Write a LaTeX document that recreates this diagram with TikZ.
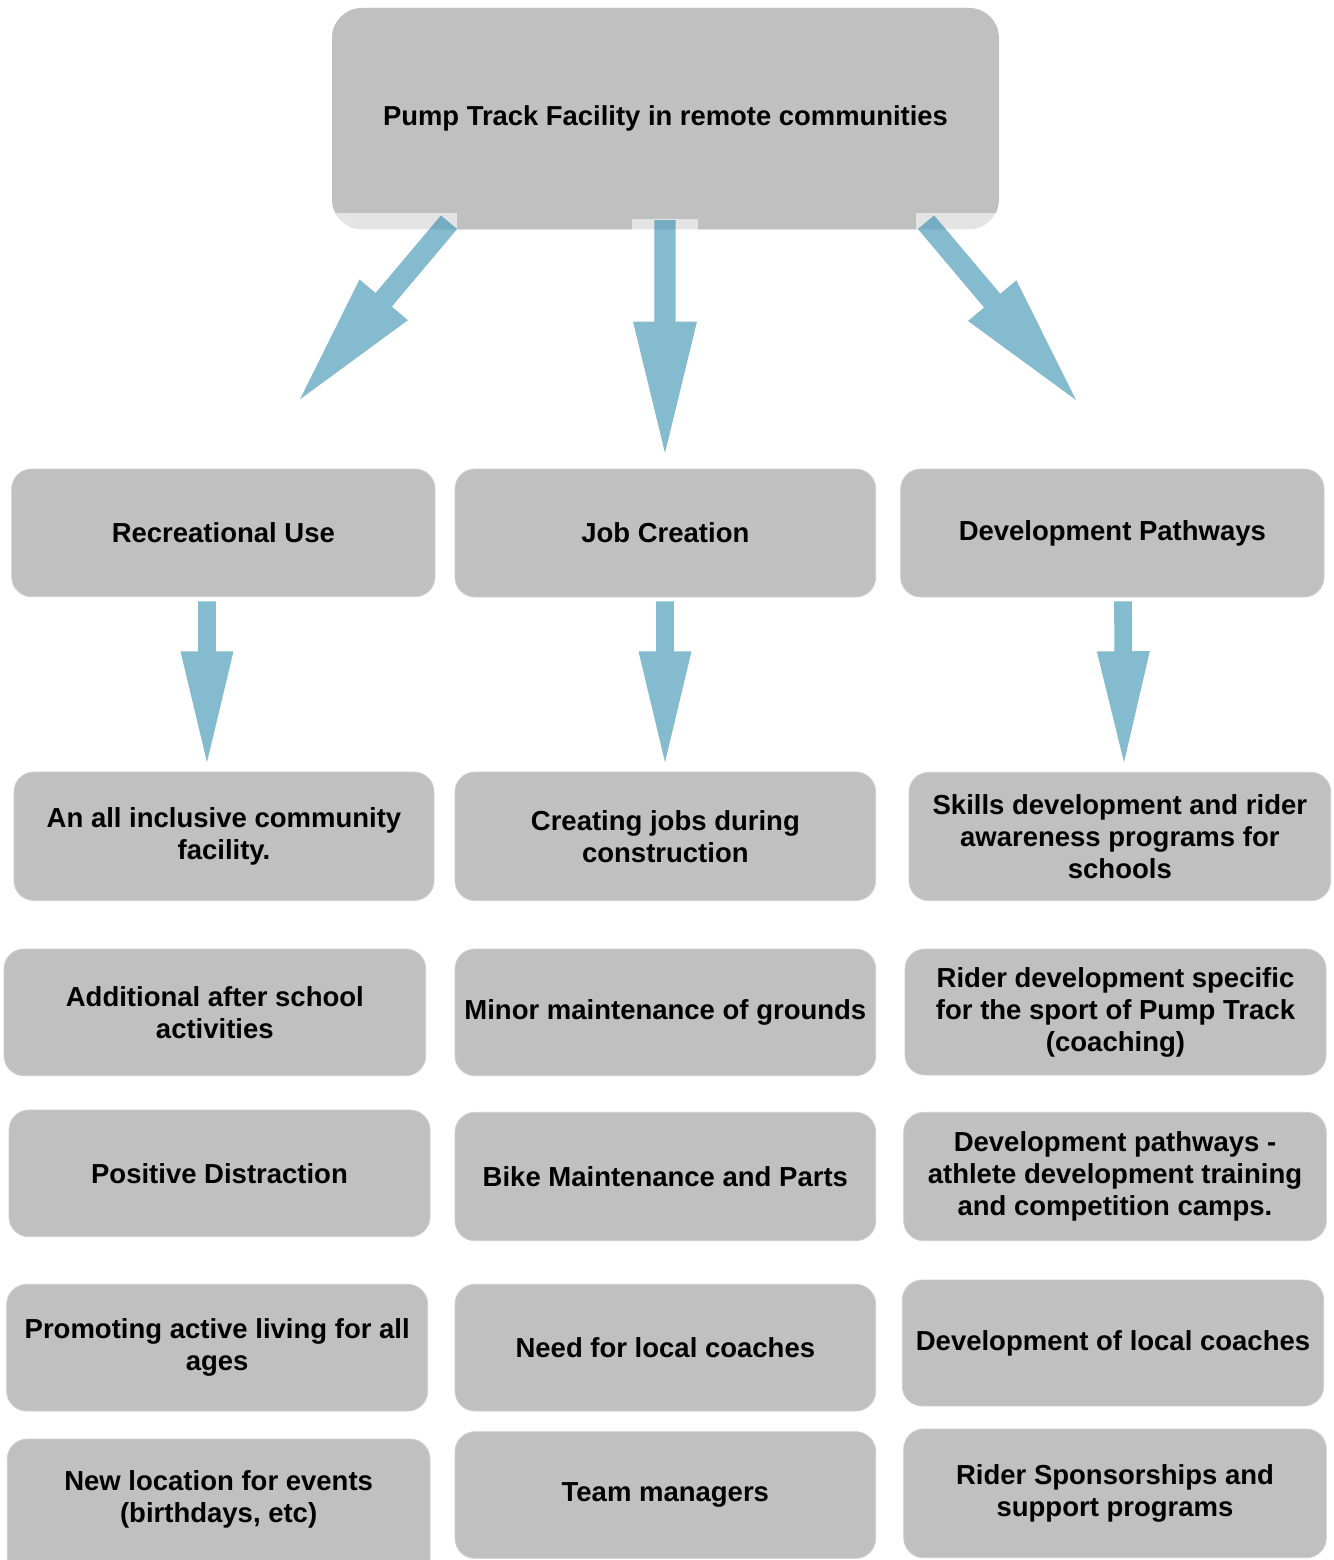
\documentclass[tikz,border=0pt]{standalone}
\usepackage{fontspec}
\setmainfont{Liberation Sans}
\usetikzlibrary{calc}
\definecolor{boxgray}{RGB}{192,192,192}
\definecolor{striplight}{RGB}{228,228,228}
\definecolor{rimgray}{RGB}{206,206,206}
\definecolor{arrowblue}{RGB}{0,113,155}
\tikzset{
  cbox/.style={rounded corners=20pt, fill=boxgray, draw=rimgray, line width=0.8pt,
    align=center, inner sep=0pt, font=\fontsize{27.5}{32}\selectfont\bfseries},
  ctext/.style={align=center, inner sep=0pt, font=\fontsize{27.5}{32}\selectfont\bfseries},
  toptext/.style={align=center, inner sep=0pt, font=\fontsize{27.4}{32}\selectfont\bfseries},
  blockarrow/.style={fill=arrowblue, fill opacity=0.48, draw=none},
}
\newcommand{\cbx}[6]{\node[cbox, minimum width={#4-#2}, minimum height={#5-#3}] (#1) at ({(#2+#4)/2},{(#3+#5)/2}) {#6};}
% start, end, shaft half width, head half width, head length
\newcommand{\blkarrow}[5]{%
  \coordinate (hb) at ($(#2)!#5pt!(#1)$);
  \fill[blockarrow] ($(#1)!#3pt!90:(#2)$) -- ($(hb)!#3pt!90:(#2)$) -- ($(hb)!#4pt!90:(#2)$) -- (#2)
     -- ($(hb)!#4pt!-90:(#2)$) -- ($(hb)!#3pt!-90:(#2)$) -- ($(#1)!#3pt!-90:(#2)$) -- cycle;}
\begin{document}
\begin{tikzpicture}[x=1pt,y=-1pt]
\useasboundingbox[fill=white] (0,0) rectangle (1333,1560);
% top box
\fill[striplight, rounded corners=30pt] (332,8) rectangle (999,229.3);
\begin{scope}
  \clip[rounded corners=30pt] (332,8) rectangle (999,229.3);
  \fill[boxgray] (332,0) rectangle (999,212.7);
  \fill[boxgray] (456.7,212) rectangle (631.7,231);
  \fill[boxgray] (698.3,212) rectangle (916,231);
  \fill[boxgray] (631.7,212) rectangle (698.3,219);
\end{scope}
\node[toptext, minimum width=667, minimum height=221.3] (top) at (665.5,118.65) {Pump Track Facility in remote communities};

% level 1
\cbx{rec}{11.7}{469}{435}{596.7}{Recreational Use}
\cbx{job}{455}{469}{875.7}{597}{Job Creation}
\cbx{dev}{900.7}{469}{1324}{597}{Development Pathways}
% level 2
\cbx{inc}{14}{772}{434}{900.5}{An all inclusive community\\facility.}
\cbx{cjob}{455}{772}{875.7}{900.5}{Creating jobs during\\construction}
\cbx{skl}{909}{772.3}{1330.7}{900.7}{Skills development and rider\\awareness programs for\\schools}
% lists
\cbx{aft}{4}{949}{425.7}{1075.7}{Additional after school\\activities}
\cbx{mnt}{455}{949}{875.7}{1075.7}{Minor maintenance of grounds}
\cbx{rdv}{905}{949}{1326}{1075}{Rider development specific\\for the sport of Pump Track\\(coaching)}
\cbx{pos}{9}{1110}{430}{1236.7}{Positive Distraction}
\cbx{bik}{455}{1112.3}{875.7}{1240.7}{Bike Maintenance and Parts}
\cbx{dpw}{903.7}{1112.3}{1326.3}{1240.7}{Development pathways -\\athlete development training\\and competition camps.}
\cbx{act}{6.7}{1284.3}{427.7}{1411}{Promoting active living for all\\ages}
\cbx{nlc}{455}{1284.3}{875.7}{1411}{Need for local coaches}
\cbx{dlc}{902.3}{1280}{1323.7}{1406}{Development of local coaches}
\cbx{evt}{7.3}{1439}{430}{1600}{}
\node[ctext] (evttext) at ($(evt.north)+(0,60.5)$) {New location for events\\(birthdays, etc)};
\cbx{team}{455}{1431.7}{875.7}{1558.3}{Team managers}
\cbx{spn}{903.7}{1429}{1326.3}{1557.7}{Rider Sponsorships and\\support programs}

% arrows from top box
\coordinate (s1) at ($(top.south)+(-216.5,-7.3)$);
\coordinate (e1) at (300,399.3);
\coordinate (s2) at ($(top.south)+(-0.5,-9.3)$);
\coordinate (e2) at (665,453);
\coordinate (s3) at ($(top.south)+(260.5,-7.3)$);
\coordinate (e3) at (1076,400);
\blkarrow{s1}{e1}{10.6}{31.6}{130}
\blkarrow{s2}{e2}{10.7}{32}{131.5}
\blkarrow{s3}{e3}{10.6}{31.6}{130}

% arrows level 1 -> level 2
\coordinate (s4) at ($(rec.south)+(-16.35,4.3)$);
\coordinate (e4) at ($(inc.north)+(-17,-9.3)$);
\coordinate (s5) at ($(job.south)+(-0.35,4)$);
\coordinate (e5) at ($(cjob.north)+(-0.35,-9.3)$);
\coordinate (s6) at ($(dev.south)+(10.65,4)$);
\coordinate (e6) at ($(skl.north)+(4.15,-9.6)$);
\blkarrow{s4}{e4}{8.9}{26.5}{111}
\blkarrow{s5}{e5}{8.9}{26.5}{111}
\blkarrow{s6}{e6}{8.9}{26.5}{111}
\end{tikzpicture}
\end{document}
